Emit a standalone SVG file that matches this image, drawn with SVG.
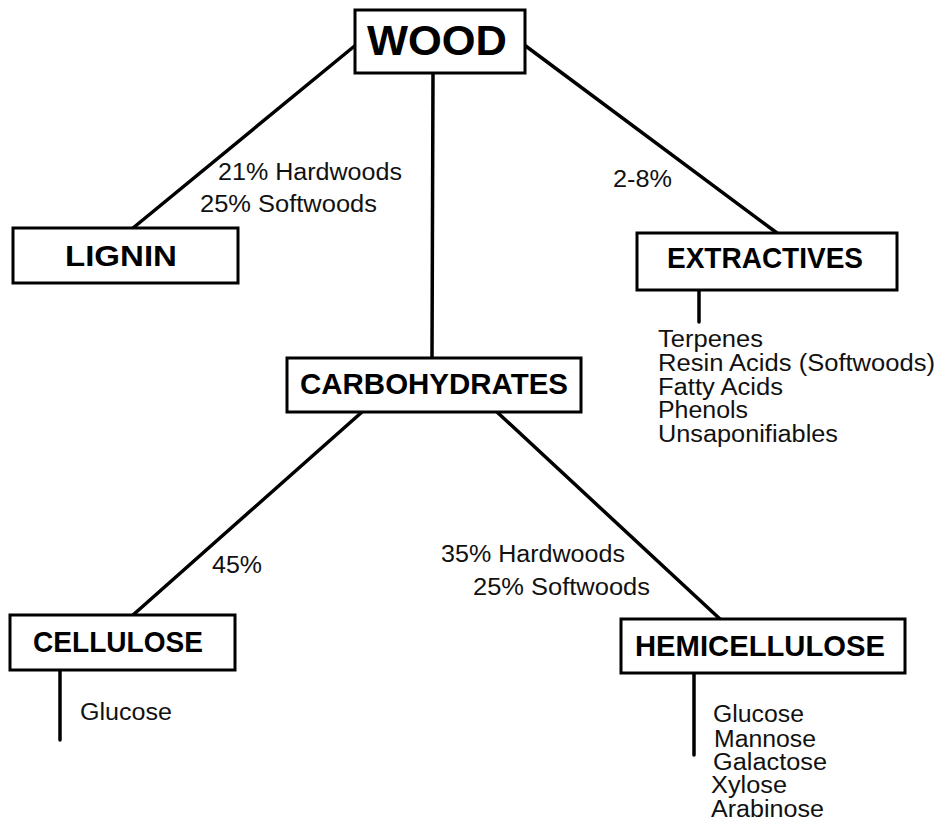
<svg xmlns="http://www.w3.org/2000/svg" width="938" height="822" viewBox="0 0 938 822">
<style>
.box{fill:#fff;stroke:#000;stroke-width:3}
.ln{stroke:#000;stroke-width:3.5;fill:none;stroke-linecap:round}
.h{font-family:"Liberation Sans",Arial,sans-serif;font-weight:bold;font-size:30px;fill:#000;text-anchor:start}
.t{font-family:"Liberation Sans",Arial,sans-serif;font-size:23px;fill:#111}
</style>
<rect width="938" height="822" fill="#fff"/>
<g id="connectors">
<line class="ln" x1="357" y1="44" x2="133" y2="228"/>
<line class="ln" x1="523" y1="44" x2="777" y2="233"/>
<line class="ln" x1="433" y1="73" x2="432" y2="358"/>
<line class="ln" x1="362" y1="412" x2="133" y2="615"/>
<line class="ln" x1="497" y1="412" x2="720" y2="619"/>
<line class="ln" x1="699" y1="290" x2="699" y2="322"/>
<line class="ln" x1="60" y1="670" x2="60" y2="740"/>
<line class="ln" x1="694" y1="673" x2="694" y2="755"/>
</g>
<g id="wood">
<rect class="box" x="355" y="10" width="170" height="63"/>
<text class="h" x="367" y="55" style="font-size:42px" textLength="140" lengthAdjust="spacingAndGlyphs">WOOD</text>
</g>
<g id="lignin">
<rect class="box" x="13" y="228" width="225" height="55"/>
<text class="h" x="65" y="266" textLength="112" lengthAdjust="spacingAndGlyphs">LIGNIN</text>
</g>
<g id="extractives">
<rect class="box" x="637" y="233" width="260" height="57"/>
<text class="h" x="667" y="268" textLength="196" lengthAdjust="spacingAndGlyphs">EXTRACTIVES</text>
</g>
<g id="carbohydrates">
<rect class="box" x="287" y="358" width="294" height="54"/>
<text class="h" x="300" y="394" textLength="268" lengthAdjust="spacingAndGlyphs">CARBOHYDRATES</text>
</g>
<g id="cellulose">
<rect class="box" x="10" y="615" width="225" height="55"/>
<text class="h" x="33" y="652" textLength="170" lengthAdjust="spacingAndGlyphs">CELLULOSE</text>
</g>
<g id="hemicellulose">
<rect class="box" x="621" y="619" width="284" height="54"/>
<text class="h" x="635" y="656" textLength="250" lengthAdjust="spacingAndGlyphs">HEMICELLULOSE</text>
</g>
<g id="labels">
<text class="t" x="218" y="180" textLength="184" lengthAdjust="spacingAndGlyphs">21% Hardwoods</text>
<text class="t" x="200" y="212" textLength="177" lengthAdjust="spacingAndGlyphs">25% Softwoods</text>
<text class="t" x="613" y="187" textLength="59" lengthAdjust="spacingAndGlyphs">2-8%</text>
<text class="t" x="212" y="573" textLength="50" lengthAdjust="spacingAndGlyphs">45%</text>
<text class="t" x="441" y="562" textLength="184" lengthAdjust="spacingAndGlyphs">35% Hardwoods</text>
<text class="t" x="473" y="595" textLength="177" lengthAdjust="spacingAndGlyphs">25% Softwoods</text>
<text class="t" x="658" y="347" textLength="105" lengthAdjust="spacingAndGlyphs">Terpenes</text>
<text class="t" x="658" y="371" textLength="277" lengthAdjust="spacingAndGlyphs">Resin Acids (Softwoods)</text>
<text class="t" x="658" y="395" textLength="125" lengthAdjust="spacingAndGlyphs">Fatty Acids</text>
<text class="t" x="658" y="418" textLength="90" lengthAdjust="spacingAndGlyphs">Phenols</text>
<text class="t" x="658" y="442" textLength="180" lengthAdjust="spacingAndGlyphs">Unsaponifiables</text>
<text class="t" x="80" y="720" textLength="92" lengthAdjust="spacingAndGlyphs">Glucose</text>
<text class="t" x="713" y="722" textLength="91" lengthAdjust="spacingAndGlyphs">Glucose</text>
<text class="t" x="714" y="747" textLength="102" lengthAdjust="spacingAndGlyphs">Mannose</text>
<text class="t" x="713" y="770" textLength="114" lengthAdjust="spacingAndGlyphs">Galactose</text>
<text class="t" x="711" y="793" textLength="76" lengthAdjust="spacingAndGlyphs">Xylose</text>
<text class="t" x="711" y="817" textLength="113" lengthAdjust="spacingAndGlyphs">Arabinose</text>
</g>
</svg>
